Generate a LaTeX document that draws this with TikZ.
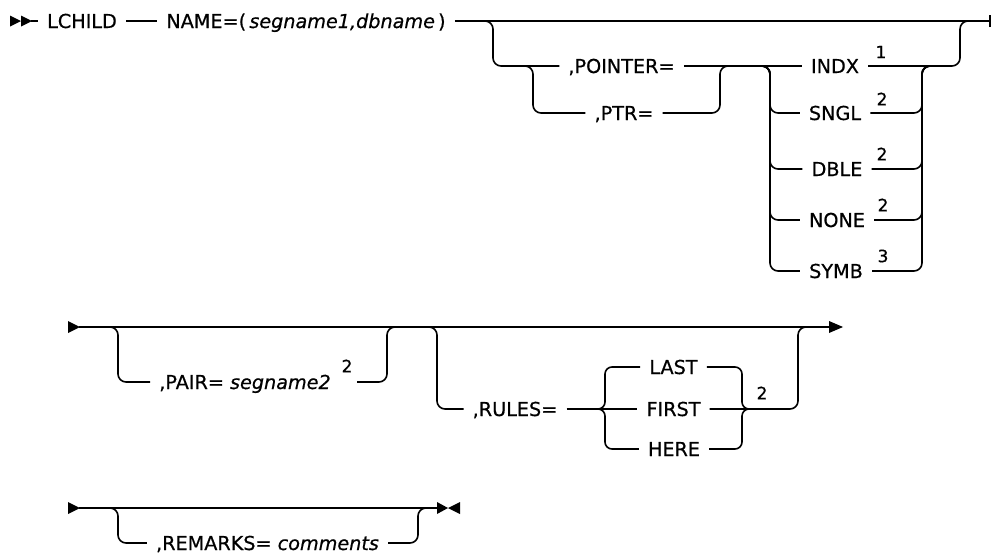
\documentclass[tikz,border=0pt]{standalone}
\usepackage{fontspec}
\setmainfont[FakeBold=0.6]{DejaVu Sans}
\begin{document}
\begin{tikzpicture}[x=1pt,y=-1pt,
  ln/.style={line width=1.6pt},
  rc/.style={line width=1.6pt, rounded corners=8pt},
  kw/.style={inner xsep=9pt, inner ysep=0pt, text height=14pt, text depth=0pt, font=\fontsize{19.2}{21}\selectfont},
  supn/.style={inner sep=0pt, font=\fontsize{17}{19}\selectfont}]
\useasboundingbox (0,0) rectangle (992,554);
% ---------- row 1 ----------
\fill (10,15.5) -- (21,21) -- (10,26.5) -- cycle;
\fill (21,15.5) -- (32,21) -- (21,26.5) -- cycle;
\coordinate (s1) at (31,21);
\node[kw] (lchild) at (82,21) {LCHILD};
\node[kw] (name) at (306,21) {NAME=(\,\textit{segname1,dbname}\,)};
\coordinate (e1) at (990,21);
\draw[ln] (s1) -- (lchild.west);
\draw[ln] (lchild.east) -- (name.west);
\draw[ln] (name.east) -- (e1);
\draw[ln] ([yshift=-6pt]e1) -- ([yshift=6pt]e1);
% optional group POINTER/PTR
\coordinate (g1a) at (493,21);
\coordinate (g1b) at (960,21);
\node[kw] (pointer) at (621.5,66) {,POINTER=};
\node[kw] (ptr) at (624,113) {,PTR=};
\draw[rc] ([xshift=-8pt]g1a) -- (g1a) -- (g1a |- pointer) -- (pointer.west);
\coordinate (g2a) at (533,66);
\coordinate (g2b) at (720,66);
\draw[rc] ([xshift=-8pt]g2a) -- (g2a) -- (g2a |- ptr) -- (ptr.west);
\draw[rc] (ptr.east) -- (g2b |- ptr) -- (g2b) -- ([xshift=8pt]g2b);
% choice INDX ...
\node[kw] (indx) at (835,66) {INDX};
\node[kw] (sngl) at (835,113) {SNGL};
\node[kw] (dble) at (837,169) {DBLE};
\node[kw] (none) at (837,220) {NONE};
\node[kw] (symb) at (836,271) {SYMB};
\node[supn] (n1) at (881,52) {1};
\node[supn] (n2) at (882,99) {2};
\node[supn] (n3) at (882,154) {2};
\node[supn] (n4) at (883,205) {2};
\node[supn] (n5) at (883,256) {3};
\draw[ln] (pointer.east) -- (indx.west);
\coordinate (c1) at (770,66);
\coordinate (c2) at (922,66);
\foreach \n in {sngl,dble,none,symb}{
  \draw[rc] ([xshift=-8pt]c1) -- (c1) -- (c1 |- \n) -- (\n.west);
  \draw[rc] (\n.east) -- (c2 |- \n) -- (c2) -- ([xshift=8pt]c2);
}
\draw[rc] (indx.east) -- (g1b |- indx) -- (g1b) -- ([xshift=8pt]g1b);
% ---------- row 2 ----------
\fill (68,321) -- (80,327) -- (68,333) -- cycle;
\coordinate (s2) at (79,327);
\coordinate (e2) at (832,327);
\draw[ln] (s2) -- (e2);
\fill (829,321) -- (843,327) -- (829,333) -- cycle;
% PAIR
\coordinate (p1) at (118,327);
\coordinate (p2) at (387,327);
\node[kw] (pair) at (245,382) {,PAIR=\ \textit{segname2}};
\node[supn] (n6) at (347,366) {2};
\coordinate (p3) at (357,382);
\draw[rc] ([xshift=-8pt]p1) -- (p1) -- (p1 |- pair) -- (pair.west);
\draw[rc] (p3) -- (p2 |- p3) -- (p2) -- ([xshift=8pt]p2);
% RULES
\coordinate (r1) at (437,327);
\coordinate (r2) at (798,327);
\node[kw] (rules) at (515,409) {,RULES=};
\coordinate (bl) at (598,409);
\coordinate (blv) at (605,409);
\coordinate (brv) at (742,409);
\coordinate (br) at (749,409);
\node[kw] (last) at (673.5,367) {LAST};
\node[kw] (first) at (673.5,409) {FIRST};
\node[kw] (here) at (674,449) {HERE};
\node[supn] (n7) at (762,393) {2};
\draw[rc] ([xshift=-8pt]r1) -- (r1) -- (r1 |- rules) -- (rules.west);
\draw[ln] (rules.east) -- (first.west);
\draw[rounded corners=7pt,line width=1.6pt] (bl) -- (blv) -- (blv |- last) -- (last.west);
\draw[rounded corners=7pt,line width=1.6pt] (bl) -- (blv) -- (blv |- here) -- (here.west);
\draw[rounded corners=7pt,line width=1.6pt] (last.east) -- (brv |- last) -- (brv) -- (br);
\draw[rounded corners=7pt,line width=1.6pt] (here.east) -- (brv |- here) -- (brv) -- (br);
\draw[rc] (first.east) -- (r2 |- first) -- (r2) -- ([xshift=8pt]r2);
% ---------- row 3 ----------
\fill (68,502) -- (80,508) -- (68,514) -- cycle;
\coordinate (s3) at (79,508);
\coordinate (e3) at (438,508);
\draw[ln] (s3) -- (e3);
\coordinate (m1) at (118,508);
\coordinate (m2) at (418,508);
\node[kw] (remarks) at (267.5,543) {,REMARKS=\ \textit{comments}};
\draw[rc] ([xshift=-8pt]m1) -- (m1) -- (m1 |- remarks) -- (remarks.west);
\draw[rc] (remarks.east) -- (m2 |- remarks) -- (m2) -- ([xshift=8pt]m2);
\fill (437,502) -- (448,508) -- (437,514) -- cycle;
\fill (460,502) -- (448,508) -- (460,514) -- cycle;
\end{tikzpicture}
\end{document}
